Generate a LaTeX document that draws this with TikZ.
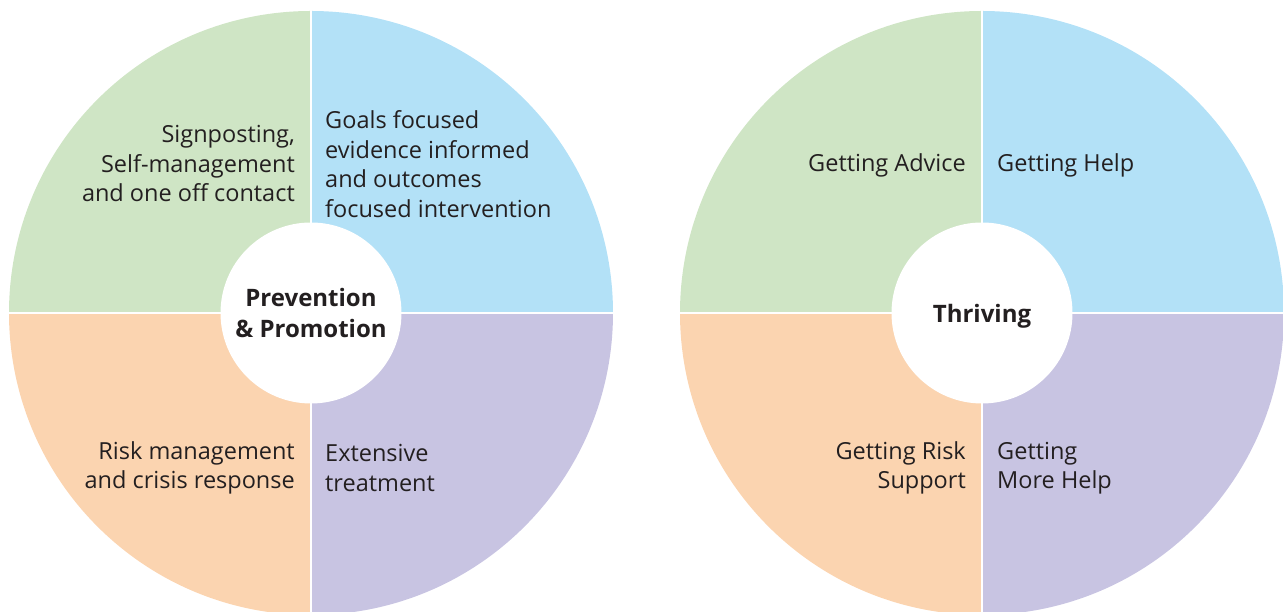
\documentclass[tikz,border=0pt]{standalone}
\usepackage{fontspec}
\setmainfont{Open Sans}
\definecolor{qgreen}{HTML}{CFE5C5}
\definecolor{qblue}{HTML}{B3E1F7}
\definecolor{qorange}{HTML}{FBD4B0}
\definecolor{qpurple}{HTML}{C8C4E2}
\definecolor{ink}{HTML}{231F20}
\begin{document}
\begin{tikzpicture}[x=1pt, y=1pt,
  every node/.style={text=ink, font=\fontsize{23.5}{29.5}\selectfont},
  hub/.style={circle, fill=white, minimum size=181pt, inner sep=0pt, text depth=0pt, align=center, font=\bfseries\fontsize{24}{30.5}\selectfont},
  lefttxt/.style={anchor=east, align=right, inner sep=0pt},
  righttxt/.style={anchor=west, align=left, inner sep=0pt}]
 \useasboundingbox (0,0) rectangle (1283,612);
 \clip (0,0) rectangle (1283,612);
 \foreach \cx/\nm in {311/L, 982/R}
 {
     \coordinate (\nm) at (\cx,299);
     \foreach \a/\col in {0/qblue, 90/qgreen, 180/qorange, 270/qpurple}
         \fill[\col] (\nm) -- ++(\a:302pt) arc[start angle=\a, end angle=\a+90, radius=302pt] -- cycle;
     \draw[white, line width=2pt] ([xshift=-305pt]\nm) -- ([xshift=305pt]\nm);
     \draw[white, line width=2pt] ([yshift=-305pt]\nm) -- ([yshift=305pt]\nm);
 }
 % left wheel
 \node[hub] (hubL) at (L) {Prevention\\\& Promotion};
 \node[lefttxt] (adviceL) at ([shift={(-16,149)}]L) {Signposting,\\Self-management\\and one off contact};
 \node[righttxt] (helpL) at ([shift={(14,149)}]L) {Goals focused\\evidence informed\\and outcomes\\focused intervention};
 \node[lefttxt] (riskL) at ([shift={(-16,-155)}]L) {Risk management\\and crisis response};
 \node[righttxt] (moreL) at ([shift={(14,-155)}]L) {Extensive\\treatment};
 % right wheel
 \node[hub] (hubR) at (R) {Thriving};
 \node[lefttxt] (adviceR) at ([shift={(-16,148)}]R) {Getting Advice};
 \node[righttxt] (helpR) at ([shift={(15,148)}]R) {Getting Help};
 \node[lefttxt] (riskR) at ([shift={(-16,-155)}]R) {Getting Risk\\Support};
 \node[righttxt] (moreR) at ([shift={(15,-155)}]R) {Getting\\More Help};
\end{tikzpicture}
\end{document}
